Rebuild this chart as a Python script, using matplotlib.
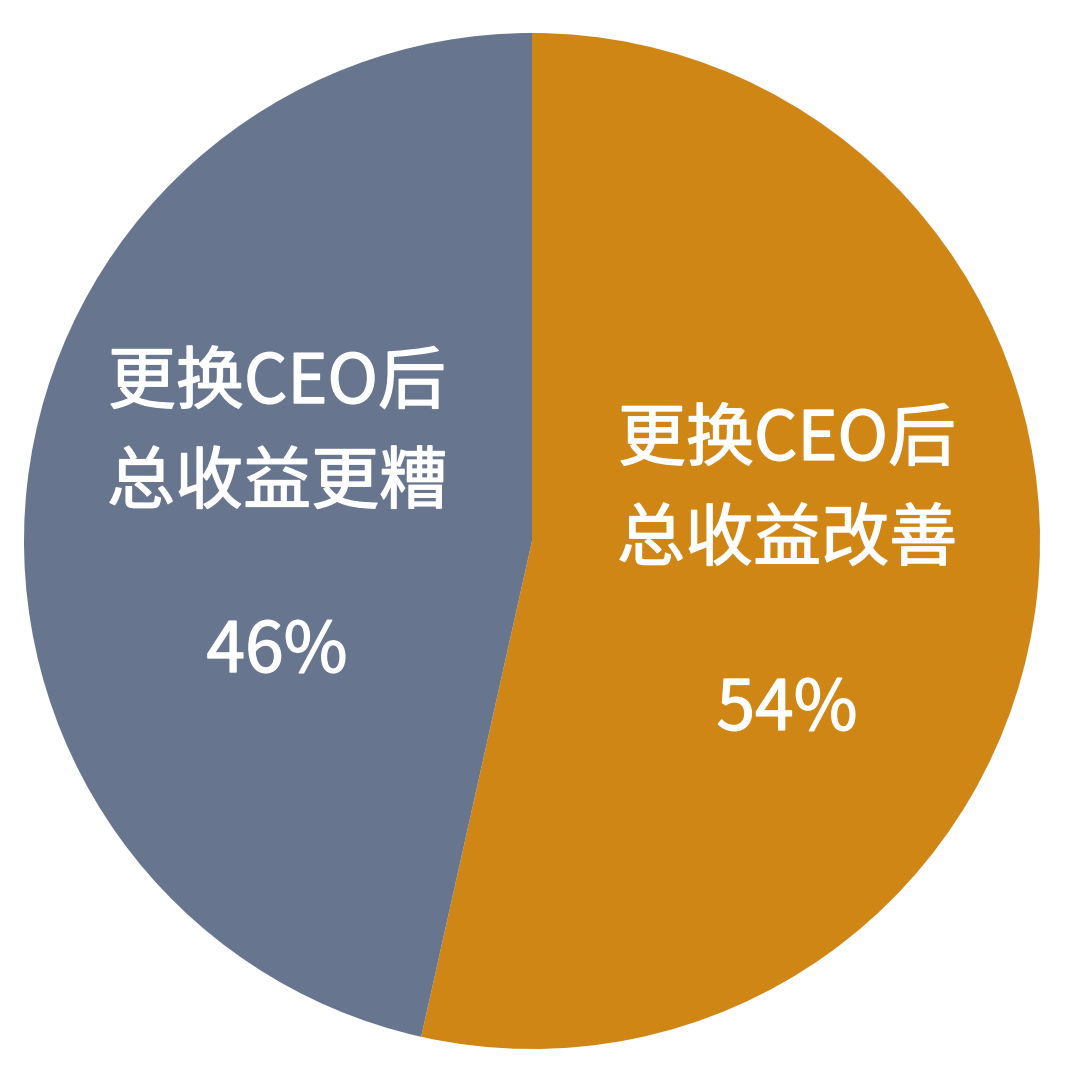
import matplotlib
matplotlib.use("Agg")
import matplotlib.pyplot as plt
import matplotlib.patheffects as pe

plt.rcParams['font.family'] = ['Noto Sans CJK SC', 'DejaVu Sans']

labels = ["更换CEO后\n总收益改善", "更换CEO后\n总收益更糟"]
values = [53.5, 46.5]
pct_labels = ["54%", "46%"]
colors = ["#CF8614", "#67758E"]
# label anchor (x, y of first line) in data units, relative to pie centre
label_x = [0.502, -0.502]
label_y = [0.197, 0.309]
pct_y = [-0.333, -0.219]

W, H = 1080, 1078
cx, cy, R = 532, 541, 508
fig = plt.figure(figsize=(W / 100, H / 100), dpi=100)
ax = fig.add_axes([0, 0, 1, 1])
ax.pie(values, colors=colors, startangle=90, counterclock=False,
       radius=1.0, wedgeprops=dict(linewidth=0))
ax.set_xlim(-cx / R, (W - cx) / R)
ax.set_ylim(-(H - cy) / R, cy / R)
ax.set_aspect('equal')
ax.axis('off')

line_gap = 100 / R
fx = [pe.withStroke(linewidth=1.0, foreground='white')]
for lab, pl, x, y, py in zip(labels, pct_labels, label_x, label_y, pct_y):
    for i, line in enumerate(lab.split("\n")):
        ax.text(x, y - i * line_gap, line, ha='center', va='center',
                color='white', fontsize=49, path_effects=fx)
    ax.text(x, py, pl, ha='center', va='center', color='white',
            fontsize=50, path_effects=fx)

fig.savefig("out.png", dpi=100, facecolor='white')
